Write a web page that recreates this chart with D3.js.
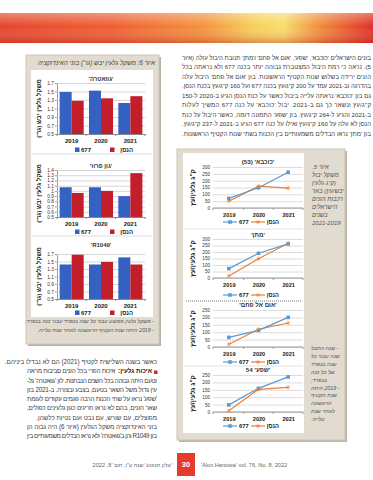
<!DOCTYPE html>
<html>
<head>
<meta charset="utf-8">
<script src="https://cdn.jsdelivr.net/npm/d3@7"></script>
<style>
  body { margin: 0; background: #fff; }
  svg { display: block; font-family: "Liberation Sans", Arial, sans-serif; }
</style>
</head>
<body>
<div id="page"></div>
<script>
// --- data ---
const years = ["2019", "2020", "2021"];
const seriesNames = ["677", "הנסן"];

// fig. 6: dry seed weight (g) per rootstock
const seedTitles = ["'גוואטרה'", "'גון פרוז'", "'R1049'"];
const seed677 = [[1.49, 1.52, 1.23], [1.07, 1.07, 0.90], [1.42, 1.42, 1.61]];
const seedHansen = [[1.28, 1.34, 1.39], [0.96, 1.00, 1.34], [1.68, 1.49, 1.42]];
const seedTicks = [
  [0.5, 0.7, 0.9, 1.1, 1.3, 1.5, 1.7],
  [0.5, 0.6, 0.7, 0.8, 0.9, 1, 1.1, 1.2, 1.3, 1.4],
  [0.5, 0.7, 0.9, 1.1, 1.3, 1.5, 1.7]
];

// fig. 5: yield (kg seed / tree)
const yieldTitles = ["'כוכבא' (53)", "'מתן'", "'אום אל פחם'", "'שפע' 54"];
const yield677 = [[70, 148, 262], [72, 190, 262], [65, 112, 200], [48, 160, 237]];
const yieldHansen = [[50, 160, 145], [15, 148, 268], [18, 120, 162], [8, 153, 167]];
const yieldTicks = [
  [0, 50, 100, 150, 200, 250, 300],
  [0, 50, 100, 150, 200, 250, 300],
  [0, 50, 100, 150, 200, 250],
  [0, 50, 100, 150, 200, 250]
];

// running text
const topParagraph = [
  "בזנים הישראלים 'כוכבא', 'שפע', 'אום אל פחם' ו'מתן' תנובת היבול עולה (איור",
  "5). נראה כי רמת היבול המצטברת גבוהה יותר בכנה 677 ולא נראתה בכל",
  "הזנים ירידה בשלוש שנות הקטיף הראשונות. בזן 'אום אל פחם' היבול עלה",
  "בהדרגה וב-2021 עמד על 200 ק\"ג/עץ בכנה 677 ועל 160 ק\"ג/עץ בכנת הנסן.",
  "גם בזן 'כוכבא' נראתה עלייה ביבול כאשר על כנת הנסן הגיע ב-2020 ל-150",
  "ק\"ג/עץ ונשאר כך גם ב-2021. יבול 'כוכבא' על כנה 677 המשיך לעלות",
  "ב-2021 והגיע ל-264 ק\"ג/עץ. בזן 'שפע' התמונה דומה, כאשר היבול על כנת",
  "הנסן לא עלה על 160 ק\"ג/עץ ואילו על כנה 677 הגיע ב-2021 ל-237 ק\"ג/עץ.",
  "בזן 'מתן' נראו הבדלים משמעותיים בין הכנות בשתי שנות הקטיף הראשונות."
];
const bottomParagraph = [
  "כאשר בשנה השלישית לקטיף (2021) הם לא נבדלו ביניהם.",
  "איכות הפרי בכל הזנים סביבות מראה",
  "וטעם היתה גבוהה בכל השנים הנבחנות. לזן 'גוואטרה' גל-",
  "עין גדול משל השאר בטעם, בצבע ובצורה. ב-2021 בזן",
  "'שפע' נראו על שתי הכנות הרבה פגמים עקודים לעומת",
  "שאר הזנים, בהם לא נראו חריגים כגון גלעינים כפולים,",
  "מפוצלים, עם שורש, עם נבט ועם נטיות כלשהן.",
  "בזני האינדוקציה משקל הגלעין (איור 6) היה גבוה הן",
  "בזן R1049 והן ב'גוואטרה' ולא נראו הבדלים משמעותיים בין"
];
const bulletLabel = "איכות גלעין:";
const fig6Caption = "איור 6: משקל גלעין יבש (גר') בזני האינדוקציה";
const fig6Notes = [
  "- משקל גלעין ממוצע עבור כל שנה בנפרד עבור כנה בנפרד;",
  "- 2019 היתה שנת הקטיף הראשונה לאחר שנת עלייה."
];
const fig5Caption = ["איור 5.", "משקל יבול", "(ק\"ג גלעין", "יבש/עץ) באר", "רכבות הזנים", "הישראלים", "בשנים", "2021-2019"];
const fig5Notes = ["- שנה התבל", "שנה עבור כל", "שנה בנפרד", "של כל כנה", "בנפרד;", "- 2019 היתה", "שנת הקטיף", "הראשונה", "לאחר שנת", "עלייה."];

// --- page ---
const W = 373, H = 480;
const svg = d3.select("#page").append("svg").attr("width", W).attr("height", H);
const defs = svg.append("defs");

const BLUE = "#3561c2", RED = "#c31f2b", LBLUE = "#5b9bd5", ORANGE = "#ed7d31";

// banner
const bg = defs.append("linearGradient").attr("id", "banner");
[[0, "#e4452b"], [0.3, "#ee5f32"], [0.55, "#f3943b"], [0.68, "#f7cf5a"], [0.76, "#f8dc6a"], [0.86, "#f08a3a"], [1, "#df2e27"]]
  .forEach(([o, c]) => bg.append("stop").attr("offset", o).attr("stop-color", c));
const bv = defs.append("linearGradient").attr("id", "bannerV").attr("x1", 0).attr("x2", 0).attr("y1", 0).attr("y2", 1);
[[0, "#fff", 0.35], [0.45, "#fff", 0], [1, "#b01818", 0.35]]
  .forEach(([o, c, a]) => bv.append("stop").attr("offset", o).attr("stop-color", c).attr("stop-opacity", a));
svg.append("rect").attr("x", 0).attr("y", 13).attr("width", W).attr("height", 30).attr("fill", "url(#banner)");
svg.append("rect").attr("x", 0).attr("y", 13).attr("width", W).attr("height", 30).attr("fill", "url(#bannerV)");

// helper for Hebrew text lines
function rtlLines(lines, o) {
  return lines.map((t, i) => {
    const el = svg.append("text")
      .attr("x", o.x).attr("y", o.y + i * o.dy)
      .attr("direction", "rtl")
      .attr("text-anchor", o.anchor || "start")
      .attr("font-size", o.size)
      .attr("font-style", o.italic ? "italic" : null)
      .attr("fill", o.color || "#333")
      .text(t);
    if (o.width && (!o.skip || !o.skip.includes(i)))
      el.attr("textLength", o.width).attr("lengthAdjust", "spacing");
    return el;
  });
}

rtlLines(topParagraph, { x: 371, y: 59.5, dy: 9.5, size: 6.1, width: 189, color: "#3a3a3a" });

// --- left box: fig 6 ---
svg.append("rect").attr("x", 28).attr("y", 57).attr("width", 133).attr("height", 289).attr("fill", "#b9b1a4");
svg.append("rect").attr("x", 26).attr("y", 55).attr("width", 133).attr("height", 289).attr("fill", "#e2dbcf").attr("stroke", "#cfc6b7");
rtlLines([fig6Caption], { x: 155, y: 65, dy: 0, size: 6.3, italic: true, width: 117, color: "#444" });
svg.append("rect").attr("x", 31).attr("y", 70).attr("width", 122).attr("height", 247).attr("fill", "#fff");
[154, 236].forEach(y => svg.append("line").attr("x1", 32).attr("x2", 152).attr("y1", y).attr("y2", y).attr("stroke", "#ddd"));
rtlLines(fig6Notes, { x: 154, y: 323, dy: 8.5, size: 5.3, italic: true, color: "#555" });

const seedLayout = [
  { title: 79, top: 83, bottom: 134, labels: 142.5, legend: 150 },
  { title: 166, top: 170, bottom: 217, labels: 225, legend: 232 },
  { title: 245, top: 254, bottom: 299, labels: 306, legend: 313 }
];

seedTitles.forEach((title, i) => {
  const L = seedLayout[i];
  const g = svg.append("g");
  const ticks = seedTicks[i];
  const x = d3.scaleBand().domain(years).range([57, 145]);
  const xs = d3.scaleBand().domain(seriesNames).range([0, x.bandwidth()]).paddingOuter(0.22);
  const y = d3.scaleLinear().domain([ticks[0], ticks[ticks.length - 1]]).range([L.bottom, L.top]);

  // grid + y axis
  const ya = g.append("g").attr("transform", "translate(57,0)")
    .call(d3.axisLeft(y).tickValues(ticks).tickSize(-88).tickPadding(3).tickFormat(d => String(d)));
  ya.select(".domain").attr("stroke", "#999");
  ya.selectAll(".tick line").attr("stroke", "#d6d6d6");
  ya.selectAll(".tick text").attr("font-size", 4.8).attr("fill", "#333").attr("font-family", "Liberation Sans");
  g.append("g").attr("transform", "translate(57,0)")
    .call(d3.axisLeft(y).tickValues(ticks).tickSize(2).tickFormat(""))
    .call(a => a.select(".domain").remove())
    .selectAll("line").attr("stroke", "#999");

  // bars
  const rows = years.map((yr, j) => ({ yr, vals: [seed677[i][j], seedHansen[i][j]] }));
  g.selectAll("g.cat").data(rows).join("g").attr("transform", d => `translate(${x(d.yr)},0)`)
    .selectAll("rect").data(d => d.vals.map((v, k) => ({ k, v }))).join("rect")
    .attr("x", d => xs(seriesNames[d.k]))
    .attr("width", xs.bandwidth())
    .attr("y", d => y(d.v))
    .attr("height", d => y(ticks[0]) - y(d.v))
    .attr("fill", d => d.k === 0 ? BLUE : RED);

  // x axis
  const xa = g.append("g").attr("transform", `translate(0,${L.bottom})`)
    .call(d3.axisBottom(x).tickSize(0).tickPadding(5));
  xa.select(".domain").attr("stroke", "#888");
  xa.selectAll("text").attr("font-size", 6).attr("font-weight", "bold").attr("fill", "#222").attr("font-family", "Liberation Sans");
  g.selectAll("line.sep").data([...years.map(d => x(d)), x.range()[1]]).join("line")
    .attr("x1", d => d).attr("x2", d => d).attr("y1", L.bottom).attr("y2", L.bottom + 2).attr("stroke", "#888");

  // titles
  g.append("text").attr("x", 101).attr("y", L.title + 2).attr("text-anchor", "middle")
    .attr("direction", "rtl").attr("font-size", 6).attr("font-weight", "bold").attr("fill", "#333").text(title);
  g.append("text").attr("transform", `translate(40.5,${(L.top + L.bottom) / 2}) rotate(-90)`)
    .attr("text-anchor", "middle").attr("direction", "rtl").attr("font-size", 6.2).attr("font-weight", "bold")
    .attr("fill", "#222").text("משקל גלעין יבש (גר')");

  // legend
  const lg = g.append("g").attr("font-size", 6).attr("fill", "#222");
  lg.append("rect").attr("x", 75).attr("y", L.legend - 2.5).attr("width", 4.5).attr("height", 4.5).attr("fill", BLUE);
  lg.append("text").attr("x", 81).attr("y", L.legend + 2).attr("font-weight", "bold").text(seriesNames[0]);
  lg.append("rect").attr("x", 110).attr("y", L.legend - 2.5).attr("width", 4.5).attr("height", 4.5).attr("fill", RED);
  lg.append("text").attr("x", 133).attr("y", L.legend + 2).attr("direction", "rtl").attr("text-anchor", "start")
    .attr("font-weight", "bold").text(seriesNames[1]);
});

// --- bottom-left running text ---
const bottomEls = rtlLines(bottomParagraph, { x: 157, y: 364, dy: 9.25, size: 6.3, width: 130, skip: [0, 1, 6], color: "#3a3a3a" });
svg.append("rect").attr("x", 154).attr("y", 370.5).attr("width", 3.5).attr("height", 3.5).attr("fill", "#d42a2a");
const bl = svg.append("text").attr("x", 152).attr("y", 373.25).attr("direction", "rtl").attr("font-size", 6.3)
  .attr("font-weight", "bold").attr("fill", "#222").text(bulletLabel);
const blW = bl.node().getComputedTextLength();
bottomEls[1].attr("x", 152 - blW - 2.5).attr("textLength", 152 - blW - 2.5 - 27).attr("lengthAdjust", "spacing");

// --- right box: fig 5 ---
svg.append("rect").attr("x", 179).attr("y", 151).attr("width", 168).attr("height", 291).attr("fill", "#bdb5a8");
svg.append("rect").attr("x", 177).attr("y", 149).attr("width", 168).attr("height", 291).attr("fill", "#e2dbcf").attr("stroke", "#cfc6b7");
svg.append("rect").attr("x", 183).attr("y", 153).attr("width", 121).attr("height", 280).attr("fill", "#fff");
[229, 366].forEach(y => svg.append("line").attr("x1", 184).attr("x2", 303).attr("y1", y).attr("y2", y).attr("stroke", "#e2e2e2"));
svg.append("line").attr("x1", 186).attr("x2", 302).attr("y1", 301).attr("y2", 301)
  .attr("stroke", "#777").attr("stroke-dasharray", "1,1");
rtlLines(fig5Caption, { x: 312, y: 169, dy: 8, size: 6, italic: true, anchor: "end", color: "#555" });
rtlLines(fig5Notes, { x: 311, y: 350, dy: 7.9, size: 5.4, italic: true, anchor: "end", color: "#555" });

const yieldLayout = [
  { title: 162, top: 167, bottom: 208, labels: 214, legend: 222 },
  { title: 235, top: 239, bottom: 278, labels: 287, legend: 295 },
  { title: 305, top: 310, bottom: 347, labels: 354, legend: 362 },
  { title: 370, top: 375, bottom: 412, labels: 419, legend: 426 }
];
const star = d3.symbol().type(d3.symbolAsterisk).size(14);
const square = d3.symbol().type(d3.symbolSquare).size(13);

yieldTitles.forEach((title, i) => {
  const L = yieldLayout[i];
  const g = svg.append("g");
  const ticks = yieldTicks[i];
  const x = d3.scalePoint().domain(years).range([214, 303]).padding(0.5);
  const y = d3.scaleLinear().domain([0, ticks[ticks.length - 1]]).range([L.bottom, L.top]);

  const ya = g.append("g").attr("transform", "translate(213,0)")
    .call(d3.axisLeft(y).tickValues(ticks).tickSize(-90).tickPadding(3));
  ya.select(".domain").remove();
  ya.selectAll(".tick line").attr("stroke", "#dcdcdc");
  ya.selectAll(".tick text").attr("font-size", 4.6).attr("fill", "#333").attr("font-family", "Liberation Sans");

  const xa = g.append("g").attr("transform", `translate(0,${L.bottom})`)
    .call(d3.axisBottom(x).tickSize(0).tickPadding(5));
  xa.select(".domain").attr("stroke", "#999").attr("d", `M213,0H303`);
  xa.selectAll("text").attr("font-size", 5.6).attr("font-weight", "bold").attr("fill", "#222").attr("font-family", "Liberation Sans");
  const step = x.step();
  g.selectAll("line.sep").data([213, ...years.map(d => x(d) + step / 2)]).join("line")
    .attr("x1", d => d).attr("x2", d => d).attr("y1", L.bottom).attr("y2", L.bottom + 2).attr("stroke", "#999");

  const line = d3.line().x((d, j) => x(years[j])).y(d => y(d));
  g.append("path").attr("d", line(yieldHansen[i])).attr("fill", "none").attr("stroke", ORANGE).attr("stroke-width", 1.2);
  g.append("path").attr("d", line(yield677[i])).attr("fill", "none").attr("stroke", LBLUE).attr("stroke-width", 1.2);
  g.selectAll("path.m1").data(yield677[i]).join("path")
    .attr("transform", (d, j) => `translate(${x(years[j])},${y(d)})`).attr("d", square).attr("fill", LBLUE);
  g.selectAll("path.m2").data(yieldHansen[i]).join("path")
    .attr("transform", (d, j) => `translate(${x(years[j])},${y(d)})`).attr("d", star)
    .attr("fill", ORANGE).attr("stroke", ORANGE).attr("stroke-width", 0.6);

  g.append("text").attr("x", 258).attr("y", L.title + 2).attr("text-anchor", "middle").attr("direction", "rtl")
    .attr("font-size", 6.2).attr("font-weight", "bold").attr("fill", "#333").text(title);
  g.append("text").attr("transform", `translate(195,${(L.top + L.bottom) / 2}) rotate(-90)`)
    .attr("text-anchor", "middle").attr("direction", "rtl").attr("font-size", 6.6).attr("font-weight", "bold")
    .attr("fill", "#2a2a2a").text("ק\"ג גלעין/עץ");

  // legend
  const ly = L.legend;
  g.append("line").attr("x1", 223).attr("x2", 237).attr("y1", ly).attr("y2", ly).attr("stroke", LBLUE).attr("stroke-width", 1.2);
  g.append("path").attr("transform", `translate(230,${ly})`).attr("d", square).attr("fill", LBLUE);
  g.append("text").attr("x", 239).attr("y", ly + 2).attr("font-size", 5.8).attr("font-weight", "bold").attr("fill", "#222").text(seriesNames[0]);
  g.append("line").attr("x1", 251).attr("x2", 265).attr("y1", ly).attr("y2", ly).attr("stroke", ORANGE).attr("stroke-width", 1.2);
  g.append("path").attr("transform", `translate(258,${ly})`).attr("d", star).attr("fill", ORANGE).attr("stroke", ORANGE).attr("stroke-width", 0.6);
  g.append("text").attr("x", 279).attr("y", ly + 2).attr("direction", "rtl").attr("font-size", 5.8)
    .attr("font-weight", "bold").attr("fill", "#222").text(seriesNames[1]);
});

// --- footer ---
svg.append("rect").attr("x", 177).attr("y", 453).attr("width", 18).attr("height", 23).attr("fill", "#e63a2c");
svg.append("text").attr("x", 186).attr("y", 467).attr("text-anchor", "middle").attr("font-size", 7.5)
  .attr("font-weight", "bold").attr("fill", "#fff").text("30");
svg.append("text").attr("x", 201).attr("y", 466.5).attr("font-size", 5.6).attr("fill", "#666")
  .text("'Alon Hanotea' vol. 76, No. 8, 2022");
svg.append("text").attr("x", 172).attr("y", 466.5).attr("direction", "rtl").attr("font-size", 5.6).attr("fill", "#666")
  .text("'עלון הנוטע' שנה ע\"ו, חוב' 8, 2022");
</script>
</body>
</html>
